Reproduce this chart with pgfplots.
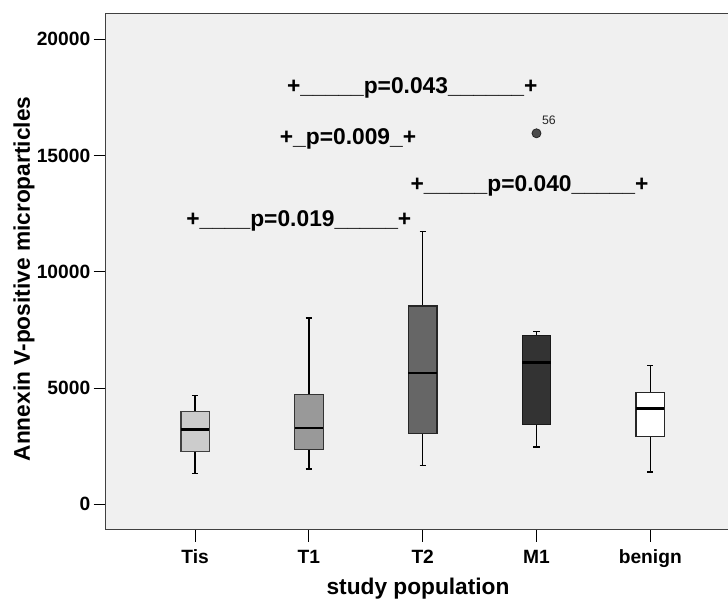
\documentclass[border=0pt]{standalone}
\usepackage{fontspec}
\setmainfont{Liberation Sans}
\usepackage{pgfplots}
\pgfplotsset{compat=1.18}
\definecolor{bg}{HTML}{F0F0F0}
\definecolor{cTis}{HTML}{CCCCCC}
\definecolor{cTone}{HTML}{999999}
\definecolor{cTtwo}{HTML}{666666}
\definecolor{cMone}{HTML}{333333}
\definecolor{cBen}{HTML}{FFFFFF}
\definecolor{framec}{HTML}{404040}
\begin{document}
\begin{tikzpicture}
\begin{axis}[
  at={(105.7pt,68.3pt)}, anchor=south west,
  scale only axis, width=634pt, height=516pt,
  xmin=-0.786, xmax=4.786, ymin=-1092, ymax=21101,
  axis background/.style={fill=bg},
  axis line style={draw=framec, line width=1.3pt},
  xtick={0,1,2,3,4}, xticklabels={Tis,T1,T2,M1,benign},
  ytick={0,5000,10000,15000,20000},
  scaled y ticks=false,
  /pgf/number format/1000 sep={},
  /pgf/number format/assume math mode=true,
  xtick pos=bottom, ytick pos=left,
  tick align=outside, major tick length=12pt,
  tick style={draw=black, line width=1.1pt},
  ticklabel style={font=\bfseries\fontsize{19.2}{21}\selectfont, inner sep=0pt},
  yticklabel style={anchor=east, xshift=-3.3pt},
  xticklabel style={anchor=base, yshift=-21.5pt},
  xlabel={study population},
  ylabel={Annexin V-positive microparticles},
  label style={font=\bfseries\fontsize{22.7}{24}\selectfont, inner sep=0pt},
  xlabel style={at={(axis description cs:0.4926,-0.1252)}, anchor=base},
  ylabel style={at={(axis description cs:-0.1194,0.4859)}, anchor=base},
  unbounded coords=jump,
  clip=false,
]
% Tis (lw 1318, q1 2278, med 3210, q3 3999, uw 4687)
\addplot[black, line width=1.3pt] coordinates {(0,3999) (0,4687) (0,nan) (-0.028,4687) (0.028,4687) (0,nan) (0,2278) (0,1318) (0,nan) (-0.028,1318) (0.028,1318)};
\addplot[fill=cTis, draw=black!75, line width=1.2pt] coordinates {(-0.125,2278) (0.125,2278) (0.125,3999) (-0.125,3999)} -- cycle;
\addplot[black, line width=2.7pt] coordinates {(-0.125,3210) (0.125,3210)};
% T1 (lw 1518, q1 2364, med 3282, q3 4715, uw 8013)
\addplot[black, line width=1.3pt] coordinates {(1,4715) (1,8013) (1,nan) (0.972,8013) (1.028,8013) (1,nan) (1,2364) (1,1518) (1,nan) (0.972,1518) (1.028,1518)};
\addplot[fill=cTone, draw=black!80, line width=1.2pt] coordinates {(0.875,2364) (1.125,2364) (1.125,4715) (0.875,4715)} -- cycle;
\addplot[black, line width=2.7pt] coordinates {(0.875,3282) (1.125,3282)};
% T2 (lw 1662, q1 3038, med 5647, q3 8529, uw 11726)
\addplot[black, line width=1.3pt] coordinates {(2,8529) (2,11726) (2,nan) (1.972,11726) (2.028,11726) (2,nan) (2,3038) (2,1662) (2,nan) (1.972,1662) (2.028,1662)};
\addplot[fill=cTtwo, draw=black!85, line width=1.2pt] coordinates {(1.875,3038) (2.125,3038) (2.125,8529) (1.875,8529)} -- cycle;
\addplot[black, line width=2.7pt] coordinates {(1.875,5647) (2.125,5647)};
% M1 (lw 2464, q1 3439, med 6106, q3 7253, uw 7439)
\addplot[black, line width=1.3pt] coordinates {(3,7253) (3,7439) (3,nan) (2.972,7439) (3.028,7439) (3,nan) (3,3439) (3,2464) (3,nan) (2.972,2464) (3.028,2464)};
\addplot[fill=cMone, draw=black!90, line width=1.2pt] coordinates {(2.875,3439) (3.125,3439) (3.125,7253) (2.875,7253)} -- cycle;
\addplot[black, line width=2.7pt] coordinates {(2.875,6106) (3.125,6106)};
% benign (lw 1389, q1 2923, med 4113, q3 4816, uw 5963)
\addplot[black, line width=1.3pt] coordinates {(4,4816) (4,5963) (4,nan) (3.972,5963) (4.028,5963) (4,nan) (4,2923) (4,1389) (4,nan) (3.972,1389) (4.028,1389)};
\addplot[fill=cBen, draw=black!85, line width=1.2pt] coordinates {(3.875,2923) (4.125,2923) (4.125,4816) (3.875,4816)} -- cycle;
\addplot[black, line width=2.7pt] coordinates {(3.875,4113) (4.125,4113)};
% outlier
\addplot[only marks, mark=*, mark size=4.5pt, mark options={fill=black!70, draw=black!85, line width=0.8pt}] coordinates {(3,15957)};
\node[font=\fontsize{12.3}{13}\selectfont, anchor=center, text=black!85, inner sep=0pt] at (axis description cs:0.6992,0.7926) {56};
\begin{scope}[every node/.style={font=\bfseries\fontsize{22.8}{24}\selectfont, anchor=base, inner sep=0pt}]
\node at (axis description cs:0.4836,0.8457) {+\_\_\_\_\_p=0.043\_\_\_\_\_\_+};
\node at (axis description cs:0.3822,0.7469) {+\_p=0.009\_+};
\node at (axis description cs:0.6685,0.6550) {+\_\_\_\_\_p=0.040\_\_\_\_\_+};
\node at (axis description cs:0.3046,0.5872) {+\_\_\_\_p=0.019\_\_\_\_\_+};
\end{scope}
\end{axis}
\pgfresetboundingbox
\useasboundingbox (0,0) rectangle (728pt,598pt);
\end{tikzpicture}
\end{document}
